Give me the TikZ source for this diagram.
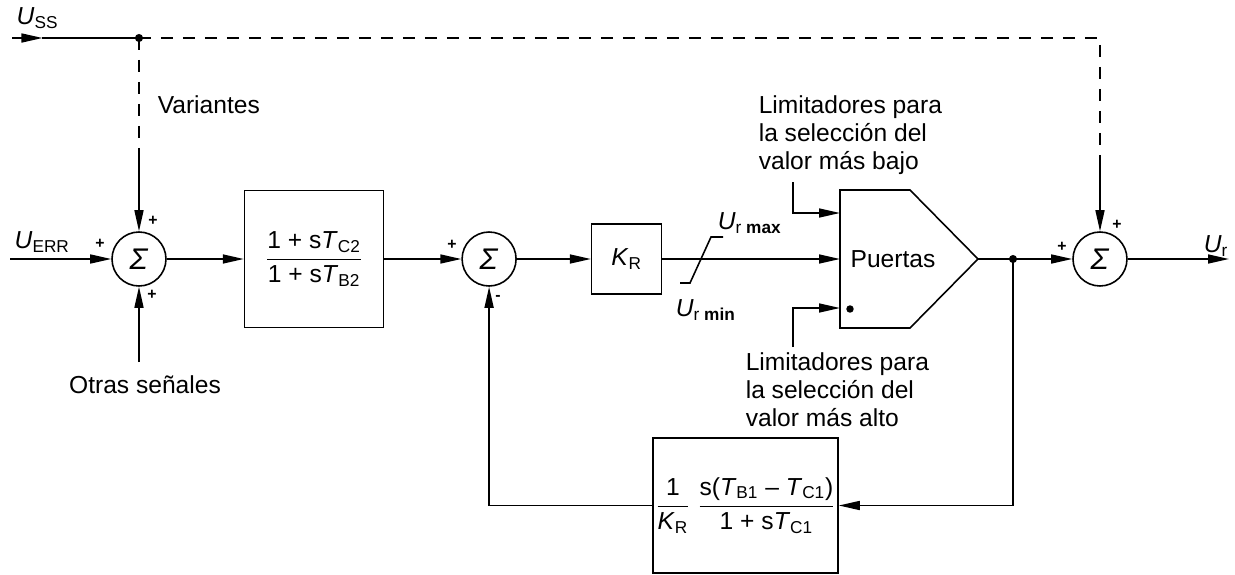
\documentclass[tikz,border=0pt]{standalone}
\usepackage{fontspec}
\setmainfont{Liberation Sans}
\usetikzlibrary{positioning,arrows.meta}

\newcommand{\vsub}[2]{\textit{#1}\textsubscript{#2}}

\begin{document}
\begin{tikzpicture}[x=0.02cm, y=-0.02cm, line width=0.9pt,
    font=\fontsize{14}{15.9}\selectfont,
    sumnode/.style={draw, circle, minimum size=1.08cm, inner sep=0pt, font=\fontsize{17}{17}\selectfont},
    tfbox/.style={draw, inner sep=0pt},
    sig/.style={-{Triangle[length=4.2mm,width=1.8mm]}},
    dashline/.style={dash pattern=on 0.24cm off 0.2cm},
    sgn/.style={font=\fontsize{9}{9}\selectfont\bfseries, inner sep=0pt},
    note/.style={align=left, anchor=west, inner sep=0pt}]

    \useasboundingbox (0,0) rectangle (1235,575);

    % main chain
    \node[sumnode] (s1) at (139,259) {\textit{Σ}};
    \node[tfbox, minimum width=2.78cm, minimum height=2.74cm, right=1.54cm of s1] (lead)
        {$\displaystyle\frac{\mbox{1 + s\vsub{T}{C2}}}{\mbox{1 + s\vsub{T}{B2}}}$};
    \node[sumnode, right=1.54cm of lead] (s2) {\textit{Σ}};
    \node[tfbox, minimum size=1.4cm, right=1.48cm of s2] (kr) {\vsub{K}{R}};

    % gate
    \draw (840,190) -- (910,190) -- (978,259) coordinate (gtip) -- (910,328) -- (840,328) -- cycle;
    \node (pu) at (893,259) {Puertas};
    \coordinate (gin1) at (840,213);
    \coordinate (gin2) at (840,259);
    \coordinate (gin3) at (840,308);
    \node[circle, fill, inner sep=1.5pt] (gdot) at (850,309) {};

    \node[sumnode] (s3) at (1100,259) {\textit{Σ}};
    \coordinate (jn) at (1013,259);
    \fill (jn) circle (2.3pt);

    % feedback
    \node[tfbox, minimum width=3.7cm, minimum height=2.7cm] (fb) at (745.5,505.5)
        {$\displaystyle\frac{\mbox{1}}{\mbox{\vsub{K}{R}}}\;\frac{\mbox{s(\vsub{T}{B1} – \vsub{T}{C1})}}{\mbox{1 + s\vsub{T}{C1}}}$};

    % inputs and outputs
    \coordinate (ussin) at (12,38);
    \coordinate (ussj) at (139,38);
    \coordinate (c3) at (1100,38);
    \coordinate (d1) at (139,153);
    \coordinate (d3) at (1100,157);
    \coordinate (uerr) at (10,259);
    \coordinate (uout) at (1229,259);
    \coordinate (otrin) at (139,362);
    \coordinate (lt) at (793,182);
    \coordinate (lb) at (793,347);
    \coordinate (lim) at (701,259);
    \fill (ussj) circle (2.3pt);

    % labels
    \node[anchor=west] (lss) at (10,18) {\vsub{U}{SS}};
    \node[anchor=west] (lerr) at (8,242) {\vsub{U}{ERR}};
    \node (lur) at (1216,246) {\vsub{U}{r}};
    \node[note] (var) at (157,105) {Variantes};
    \node (otr) at (145,385) {Otras señales};
    \node[note] (lim1) at (758,135) {Limitadores para\\la selección del\\valor más bajo};
    \node[note] (lim2) at (745,390) {Limitadores para\\la selección del\\valor más alto};
    \node[anchor=west, inner sep=0pt] (lmax) at (717,223) {\vsub{U}{r \textbf{max}}};
    \node[anchor=west, inner sep=0pt] (lmin) at (675,310) {\vsub{U}{r \textbf{min}}};

    \node[sgn] at (100,244) {+};
    \node[sgn] at (153,221) {+};
    \node[sgn] at (152,295) {+};
    \node[sgn] at (452,245) {+};
    \node[sgn] at (498,298) {-};
    \node[sgn] at (1062,247) {+};
    \node[sgn] at (1117,225) {+};

    % connectors
    \path (ussin) -- coordinate[pos=0.24] (ussa) (ussj);
    \draw[sig] (ussin) -- (ussa);
    \draw (ussa) -- (ussj);
    \draw[dashline] (ussj) -- (c3) -- (d3);
    \draw[sig] (d3) -- (s3.north);
    \draw[dashline] (ussj) -- (d1);
    \draw[sig] (d1) -- (s1.north);

    \draw[sig] (uerr) -- (s1.west);
    \draw[sig] (otrin) -- (s1.south);
    \draw[sig] (s1) -- (lead);
    \draw[sig] (lead) -- (s2);
    \draw[sig] (s2) -- (kr);
    \draw[sig] (kr) -- (gin2);
    \draw[sig] (lt) |- (gin1);
    \draw[sig] (lb) |- (gin3);
    \draw (gtip) -- (jn);
    \draw[sig] (jn) -- (s3);
    \draw[sig] (s3) -- (uout);
    \draw[sig] (jn) |- (fb.east);
    \draw[sig] (fb.west) -| (s2.south);

    % limiter
    \draw ([shift={(-21,24)}]lim) -- ++(10,0) -- ++(21,-46) -- ++(12,0);
\end{tikzpicture}
\end{document}
